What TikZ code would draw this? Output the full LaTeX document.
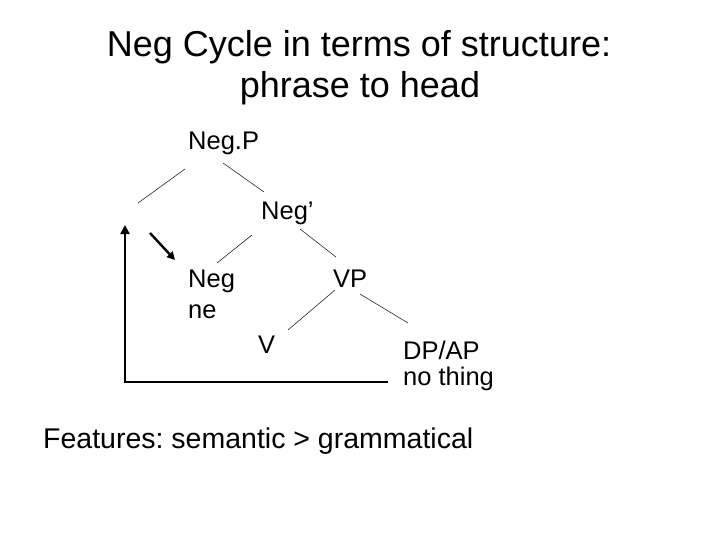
\documentclass[tikz,border=0pt]{standalone}
\usepackage{fontspec}
\setmainfont{Liberation Sans}
\usetikzlibrary{arrows.meta}
\frenchspacing
\begin{document}
\begin{tikzpicture}[x=1pt,y=-1pt,
  lbl/.style={anchor=base west,inner sep=0pt,font=\fontsize{25.5}{25.5}\selectfont},
  ttl/.style={anchor=base,inner sep=0pt,font=\fontsize{36}{36}\selectfont},
  branch/.style={line width=0.6pt,black!85},
  bigarrow/.style={line width=2.6pt,-{Triangle[length=9pt,width=9pt]}},
  bigline/.style={line width=2.6pt}]
\useasboundingbox (0,0) rectangle (720,540);
% title
\node[ttl] (t1) at (359,57) {Neg Cycle in terms of structure:};
\node[ttl] (t2) at (360,98) {phrase to head};
% tree labels
\node[lbl] (negp) at (188,150) {Neg.P};
\node[lbl] (negbar) at (261,220) {Neg’};
\node[lbl] (neg) at (188,287) {Neg};
\node[lbl] (ne) at (188,318) {ne};
\node[lbl] (vp) at (333,287) {VP};
\node[lbl] (v) at (258,353) {V};
\node[lbl] (dpap) at (403,359) {DP/AP};
\node[lbl] (nothing) at (403,385) {no thing};
% branch end points
\coordinate (a1) at (185,169); \coordinate (a2) at (138,203);
\coordinate (b1) at (223,163); \coordinate (b2) at (264,192);
\coordinate (c1) at (252,235); \coordinate (c2) at (217,263);
\coordinate (d1) at (300,229); \coordinate (d2) at (336,257);
\coordinate (e1) at (335,290); \coordinate (e2) at (288,330);
\coordinate (f1) at (360,294); \coordinate (f2) at (408,323);
\draw[branch] (a1) -- (a2);
\draw[branch] (b1) -- (b2);
\draw[branch] (c1) -- (c2);
\draw[branch] (d1) -- (d2);
\draw[branch] (e1) -- (e2);
\draw[branch] (f1) -- (f2);
% movement arrows
\coordinate (corner) at (125,382);
\coordinate (uptip) at (125,225);
\coordinate (hend) at (387,382);
\coordinate (m1) at (150,233);
\coordinate (m2) at (175,260);
\draw[bigarrow] (corner) -- (uptip);
\draw[bigline,line cap=rect] (corner) -- (hend);
\draw[line width=2.4pt,-{Triangle[length=8pt,width=8pt]}] (m1) -- (m2);
% features
\node[anchor=base west,inner sep=0pt,font=\fontsize{28.5}{28.5}\selectfont] (feat) at (43,448) {Features: semantic > grammatical};
\end{tikzpicture}
\end{document}
